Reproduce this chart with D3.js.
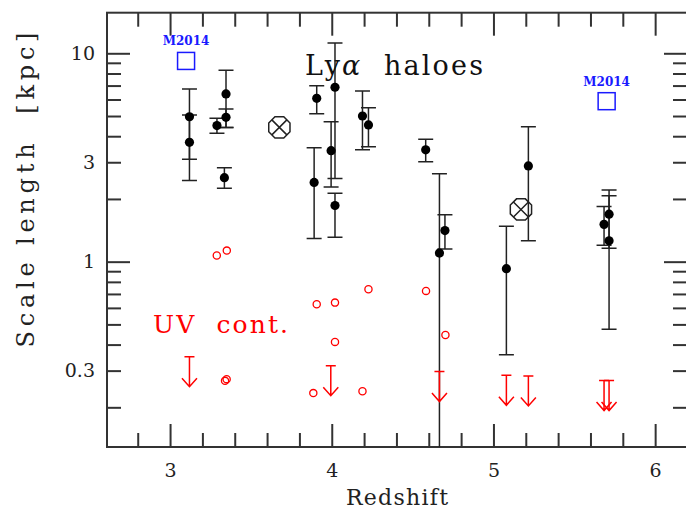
<!DOCTYPE html>
<html>
<head>
<meta charset="utf-8">
<script src="https://cdn.jsdelivr.net/npm/d3@7"></script>
<style>
  body { margin: 0; background: #fff; }
  svg { display: block; }
</style>
</head>
<body>
<svg id="chart" width="686" height="512"></svg>
<script>
// Lya halo scale lengths: redshift, value, lower / upper end of error bar (kpc)
const haloZ  = [3.12, 3.12, 3.29, 3.346, 3.346, 3.336, 3.891, 3.907, 3.996, 4.02, 4.02, 4.19, 4.227, 4.581, 4.666, 4.70, 5.08, 5.216, 5.684, 5.715, 5.715];
const haloR  = [4.96, 3.74, 4.50, 6.38, 4.93, 2.53, 2.40, 6.08, 3.41, 6.87, 1.86, 5.00, 4.53, 3.44, 1.10, 1.41, 0.925, 2.88, 1.51, 1.69, 1.26];
const haloLo = [3.10, 2.45, 4.13, 4.41, 4.41, 2.25, 1.29, 5.13, 2.28, 2.51, 1.31, 3.44, 3.56, 3.02, 0.05, 1.15, 0.358, 1.26, 1.20, 1.16, 0.474];
const haloHi = [6.74, 5.06, 4.88, 8.30, 5.40, 2.82, 3.52, 6.99, 4.69, 11.2, 2.13, 6.59, 5.48, 3.87, 2.64, 1.68, 1.48, 4.44, 1.84, 2.21, 2.07];

// stacked haloes (crossed octagons)
const stackZ = [3.676, 5.17];
const stackR = [4.41, 1.78];

// M2014 points
const mZ = [3.099, 5.70];
const mR = [9.19, 5.89];

// UV continuum sizes
const uvZ = [3.289, 3.351, 3.907, 4.02, 4.227, 4.583, 4.02, 4.703, 3.886, 4.19, 3.34, 3.35];
const uvR = [1.07, 1.13, 0.625, 0.636, 0.737, 0.724, 0.412, 0.445, 0.234, 0.239, 0.268, 0.273];

// UV continuum upper limits
const limZ = [3.12, 3.994, 4.666, 5.08, 5.216, 5.684, 5.715];
const limR = [0.35, 0.317, 0.297, 0.285, 0.283, 0.269, 0.269];

// axes
const xDomain = [2.61, 6.197];
const yDomain = [0.129, 15.66];
const xMajor = [3, 4, 5, 6];
const xMinor = [2.8, 3.2, 3.4, 3.6, 3.8, 4.2, 4.4, 4.6, 4.8, 5.2, 5.4, 5.6, 5.8];
const yMajor = [1, 10];
const yMinor = [0.2, 0.3, 0.4, 0.5, 0.6, 0.7, 0.8, 0.9, 2, 3, 4, 5, 6, 7, 8, 9];
const yLabels = [0.3, 1, 3, 10];

const L = 107, R = 687, T = 12.7, B = 447;
const svg = d3.select('#chart');
const x = d3.scaleLinear().domain(xDomain).range([L, R]);
const y = d3.scaleLog().domain(yDomain).range([B, T]);
const font = 'DejaVu Serif';
const ink = '#222';

const yFmt = d => yLabels.includes(d) ? String(d) : '';

function styleAxis(g){
    g.select('.domain').remove();
    g.selectAll('line').attr('stroke', '#333').attr('stroke-width', 2);
    g.selectAll('text').attr('font-family', font).attr('font-size', 19).attr('fill', '#222');
}

// ticks, inward on all four sides
svg.append('g').attr('transform', `translate(0,${B})`)
    .call(d3.axisBottom(x).tickValues(xMinor).tickSize(-14).tickFormat(''))
    .call(styleAxis);
svg.append('g').attr('transform', `translate(0,${B})`)
    .call(d3.axisBottom(x).tickValues(xMajor).tickSize(-23).tickPadding(17).tickFormat(d3.format('d')))
    .call(styleAxis);
svg.append('g').attr('transform', `translate(0,${T})`)
    .call(d3.axisTop(x).tickValues(xMinor).tickSize(-14).tickFormat(''))
    .call(styleAxis);
svg.append('g').attr('transform', `translate(0,${T})`)
    .call(d3.axisTop(x).tickValues(xMajor).tickSize(-23).tickFormat(''))
    .call(styleAxis);

svg.append('g').attr('transform', `translate(${L},0)`)
    .call(d3.axisLeft(y).tickValues(yMinor).tickSize(-14).tickPadding(12).tickFormat(yFmt))
    .call(styleAxis);
svg.append('g').attr('transform', `translate(${L},0)`)
    .call(d3.axisLeft(y).tickValues(yMajor).tickSize(-23).tickPadding(12).tickFormat(yFmt))
    .call(styleAxis);
svg.append('g').attr('transform', `translate(${R},0)`)
    .call(d3.axisRight(y).tickValues(yMinor).tickSize(-14).tickFormat(''))
    .call(styleAxis);
svg.append('g').attr('transform', `translate(${R},0)`)
    .call(d3.axisRight(y).tickValues(yMajor).tickSize(-23).tickFormat(''))
    .call(styleAxis);

// frame
svg.append('rect')
    .attr('x', L).attr('y', T).attr('width', R - L).attr('height', B - T)
    .attr('fill', 'none').attr('stroke', '#333').attr('stroke-width', 2);

svg.append('clipPath').attr('id', 'clip')
    .append('rect').attr('x', L).attr('y', T).attr('width', R - L).attr('height', B - T);
const plot = svg.append('g').attr('clip-path', 'url(#clip)');

// error bars
const idx = d3.range(haloZ.length);
const eb = plot.append('g').attr('stroke', ink).attr('stroke-width', 1.5).attr('fill', 'none');
eb.selectAll('path').data(idx).enter().append('path')
    .attr('d', i => {
        const cx = x(haloZ[i]), y0 = y(haloLo[i]), y1 = y(haloHi[i]), w = 7.5;
        return `M${cx},${y0}V${y1}M${cx - w},${y0}H${cx + w}M${cx - w},${y1}H${cx + w}`;
    });
plot.append('g').selectAll('circle').data(idx).enter().append('circle')
    .attr('cx', i => x(haloZ[i]))
    .attr('cy', i => y(haloR[i]))
    .attr('r', 4.6)
    .attr('fill', '#000');

// crossed octagons
const oct = d3.range(8).map(k => {
    const a = Math.PI / 8 + k * Math.PI / 4;
    return [11.5 * Math.cos(a), 11.5 * Math.sin(a)];
});
const xo = d3.range(stackZ.length);
const og = plot.append('g').selectAll('g').data(xo).enter().append('g')
    .attr('transform', i => `translate(${x(stackZ[i])},${y(stackR[i])})`)
    .attr('stroke', ink).attr('stroke-width', 1.5).attr('fill', 'none');
og.append('path').attr('d', d3.line()(oct) + 'Z');
og.append('path').attr('d', 'M-7.5,-7.5L7.5,7.5M-7.5,7.5L7.5,-7.5');

// M2014
const mi = d3.range(mZ.length);
plot.append('g').selectAll('rect').data(mi).enter().append('rect')
    .attr('x', i => x(mZ[i]) - 8.5)
    .attr('y', i => y(mR[i]) - 8.5)
    .attr('width', 17).attr('height', 17)
    .attr('fill', 'none').attr('stroke', '#1a1aff').attr('stroke-width', 1.5);
svg.append('g').selectAll('text').data(mi).enter().append('text')
    .attr('x', i => x(mZ[i]))
    .attr('y', i => y(mR[i]) - 15.5)
    .attr('text-anchor', 'middle')
    .attr('font-family', font).attr('font-size', 12).attr('font-weight', 'bold')
    .attr('fill', '#1a1aff')
    .text('M2014');

// UV continuum
plot.append('g').selectAll('circle').data(d3.range(uvZ.length)).enter().append('circle')
    .attr('cx', i => x(uvZ[i]))
    .attr('cy', i => y(uvR[i]))
    .attr('r', 3.6)
    .attr('fill', 'none').attr('stroke', '#ff0000').attr('stroke-width', 1.3);

plot.append('g').attr('stroke', '#ff0000').attr('stroke-width', 1.5).attr('fill', 'none')
    .selectAll('path').data(d3.range(limZ.length)).enter().append('path')
    .attr('d', i => {
        const cx = x(limZ[i]), y0 = y(limR[i]);
        return `M${cx - 5},${y0}H${cx + 5}M${cx},${y0}V${y0 + 30}` +
            `M${cx - 7.5},${y0 + 21.5}L${cx},${y0 + 30}L${cx + 7.5},${y0 + 21.5}`;
    });

// labels
const lya = svg.append('text')
    .attr('x', 305).attr('y', 75)
    .attr('font-family', font).attr('font-size', 27).attr('fill', '#111')
    .attr('textLength', 178).attr('lengthAdjust', 'spacing');
lya.append('tspan').text('Ly');
lya.append('tspan').attr('font-style', 'italic').text('α');
lya.append('tspan').text('\u00a0\u00a0haloes');

svg.append('text')
    .attr('x', 153).attr('y', 333)
    .attr('font-family', font).attr('font-size', 25).attr('fill', '#ff0000')
    .attr('textLength', 135).attr('lengthAdjust', 'spacing')
    .text('UV\u00a0\u00a0cont.');

svg.append('text')
    .attr('x', (L + R) / 2).attr('y', 505)
    .attr('text-anchor', 'middle')
    .attr('font-family', font).attr('font-size', 22).attr('fill', '#222')
    .attr('textLength', 102).attr('lengthAdjust', 'spacing')
    .text('Redshift');

svg.append('text')
    .attr('transform', 'translate(34,190) rotate(-90)')
    .attr('text-anchor', 'middle')
    .attr('font-family', font).attr('font-size', 24).attr('fill', '#222')
    .attr('textLength', 315).attr('lengthAdjust', 'spacing')
    .text('Scale\u00a0length\u00a0\u00a0[kpc]');
</script>
</body>
</html>
